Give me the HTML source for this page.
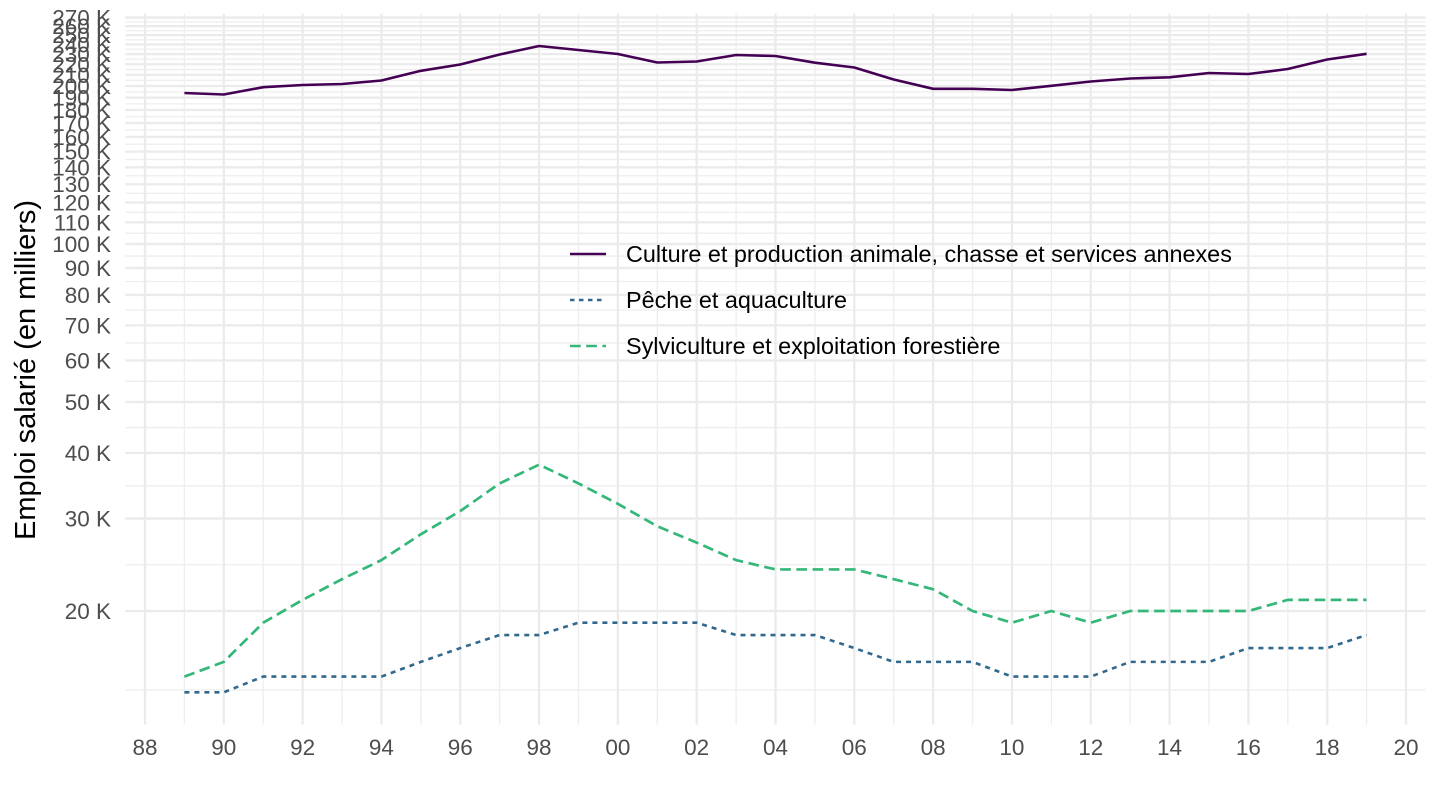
<!DOCTYPE html>
<html><head><meta charset="utf-8"><style>
html,body{margin:0;padding:0;background:#fff;}
svg{display:block;font-family:"Liberation Sans",Arial,sans-serif;}
</style></head><body>
<svg width="1440" height="810" viewBox="0 0 1440 810" xmlns="http://www.w3.org/2000/svg">
<rect width="1440" height="810" fill="#fff"/>
<g stroke="#EEEEEE" stroke-width="1.3" fill="none">
<path d="M125.3 690H1425.7M125.3 564.78H1425.7M125.3 485.79H1425.7M125.3 427.56H1425.7M125.3 381.3H1425.7M125.3 342.94H1425.7M125.3 310.14H1425.7M125.3 281.49H1425.7M125.3 256.05H1425.7M125.3 233.18H1425.7M125.3 212.39H1425.7M125.3 193.35H1425.7M125.3 175.77H1425.7M125.3 159.46H1425.7M125.3 144.24H1425.7M125.3 129.97H1425.7M125.3 116.54H1425.7M125.3 103.86H1425.7M125.3 91.85H1425.7M125.3 80.44H1425.7M125.3 69.58H1425.7M125.3 59.2H1425.7M125.3 49.28H1425.7M125.3 39.78H1425.7M125.3 30.65H1425.7M125.3 21.88H1425.7"/>
<path d="M184.41 13.7V724.6M263.22 13.7V724.6M342.03 13.7V724.6M420.84 13.7V724.6M499.66 13.7V724.6M578.47 13.7V724.6M657.28 13.7V724.6M736.09 13.7V724.6M814.91 13.7V724.6M893.72 13.7V724.6M972.53 13.7V724.6M1051.34 13.7V724.6M1130.16 13.7V724.6M1208.97 13.7V724.6M1287.78 13.7V724.6M1366.59 13.7V724.6"/>
</g>
<g stroke="#EBEBEB" stroke-width="2.3" fill="none">
<path d="M125.3 611H1425.7M125.3 518.55H1425.7M125.3 453.03H1425.7M125.3 402.08H1425.7M125.3 360.51H1425.7M125.3 325.36H1425.7M125.3 294.92H1425.7M125.3 268.06H1425.7M125.3 244.04H1425.7M125.3 222.31H1425.7M125.3 202.47H1425.7M125.3 184.22H1425.7M125.3 167.32H1425.7M125.3 151.59H1425.7M125.3 136.88H1425.7M125.3 123.05H1425.7M125.3 110.02H1425.7M125.3 97.7H1425.7M125.3 86H1425.7M125.3 74.88H1425.7M125.3 64.27H1425.7M125.3 54.13H1425.7M125.3 44.43H1425.7M125.3 35.12H1425.7M125.3 26.18H1425.7M125.3 17.58H1425.7"/>
<path d="M145 13.7V724.6M223.81 13.7V724.6M302.63 13.7V724.6M381.44 13.7V724.6M460.25 13.7V724.6M539.06 13.7V724.6M617.88 13.7V724.6M696.69 13.7V724.6M775.5 13.7V724.6M854.31 13.7V724.6M933.13 13.7V724.6M1011.94 13.7V724.6M1090.75 13.7V724.6M1169.56 13.7V724.6M1248.38 13.7V724.6M1327.19 13.7V724.6M1406 13.7V724.6"/>
</g>

<!-- series -->
<polyline fill="none" stroke="#440154" stroke-width="2.6" stroke-linejoin="round" points="184.41,93 223.81,94.5 263.22,87.2 302.63,85 342.03,84 381.44,80.5 420.84,70.8 460.25,64.5 499.66,54.5 539.06,46 578.47,50 617.88,54 657.28,62.5 696.69,61.5 736.09,55 775.5,56 814.91,62.7 854.31,67.5 893.72,79.5 933.13,88.8 972.53,88.8 1011.94,90 1051.34,85.8 1090.75,81.5 1130.16,78.5 1169.56,77.3 1208.97,73 1248.38,74 1287.78,69 1327.19,59.5 1366.59,53.8"/>
<polyline fill="none" stroke="#31688E" stroke-width="2.6" stroke-dasharray="5 5" points="184.41,692.32 223.81,692.32 263.22,676.59 302.63,676.59 342.03,676.59 381.44,676.59 420.84,661.88 460.25,648.06 499.66,635.02 539.06,635.02 578.47,622.7 617.88,622.7 657.28,622.7 696.69,622.7 736.09,635.02 775.5,635.02 814.91,635.02 854.31,648.06 893.72,661.88 933.13,661.88 972.53,661.88 1011.94,676.59 1051.34,676.59 1090.75,676.59 1130.16,661.88 1169.56,661.88 1208.97,661.88 1248.38,648.06 1287.78,648.06 1327.19,648.06 1366.59,635.02"/>
<polyline fill="none" stroke="#35B779" stroke-width="2.7" stroke-dasharray="10.7 5.5" points="184.41,676.59 223.81,661.88 263.22,622.7 302.63,599.88 342.03,579.13 381.44,560.12 420.84,534.28 460.25,511.07 499.66,483.41 539.06,464.65 578.47,483.41 617.88,503.84 657.28,526.28 696.69,542.58 736.09,560.12 775.5,569.43 814.91,569.43 854.31,569.43 893.72,579.13 933.13,589.27 972.53,611 1011.94,622.7 1051.34,611 1090.75,622.7 1130.16,611 1169.56,611 1208.97,611 1248.38,611 1287.78,599.88 1327.19,599.88 1366.59,599.88"/>

<!-- y tick labels -->
<g fill="#4D4D4D" font-size="22.5" text-anchor="end">
<text x="111" y="619">20 K</text>
<text x="111" y="526.55">30 K</text>
<text x="111" y="461.03">40 K</text>
<text x="111" y="410.08">50 K</text>
<text x="111" y="368.51">60 K</text>
<text x="111" y="333.36">70 K</text>
<text x="111" y="302.92">80 K</text>
<text x="111" y="276.06">90 K</text>
<text x="111" y="252.04">100 K</text>
<text x="111" y="230.31">110 K</text>
<text x="111" y="210.47">120 K</text>
<text x="111" y="192.22">130 K</text>
<text x="111" y="175.32">140 K</text>
<text x="111" y="159.59">150 K</text>
<text x="111" y="144.88">160 K</text>
<text x="111" y="131.05">170 K</text>
<text x="111" y="118.02">180 K</text>
<text x="111" y="105.7">190 K</text>
<text x="111" y="94">200 K</text>
<text x="111" y="82.88">210 K</text>
<text x="111" y="72.27">220 K</text>
<text x="111" y="62.13">230 K</text>
<text x="111" y="52.43">240 K</text>
<text x="111" y="43.12">250 K</text>
<text x="111" y="34.18">260 K</text>
<text x="111" y="25.58">270 K</text>
</g>

<!-- x tick labels -->
<g fill="#4D4D4D" font-size="22.5" text-anchor="middle">
<text x="145" y="755">88</text>
<text x="223.81" y="755">90</text>
<text x="302.63" y="755">92</text>
<text x="381.44" y="755">94</text>
<text x="460.25" y="755">96</text>
<text x="539.06" y="755">98</text>
<text x="617.88" y="755">00</text>
<text x="696.69" y="755">02</text>
<text x="775.5" y="755">04</text>
<text x="854.31" y="755">06</text>
<text x="933.13" y="755">08</text>
<text x="1011.94" y="755">10</text>
<text x="1090.75" y="755">12</text>
<text x="1169.56" y="755">14</text>
<text x="1248.38" y="755">16</text>
<text x="1327.19" y="755">18</text>
<text x="1406" y="755">20</text>
</g>

<!-- y axis title -->
<text x="0" y="0" transform="translate(35,370) rotate(-90)" text-anchor="middle" font-size="29" fill="#000">Emploi salarié (en milliers)</text>

<!-- legend -->
<g fill="none" stroke-width="2.6">
<line x1="570" y1="254" x2="606" y2="254" stroke="#440154"/>
<line x1="570" y1="300" x2="606" y2="300" stroke="#31688E" stroke-dasharray="4.5 4.5"/>
<line x1="570" y1="346" x2="606" y2="346" stroke="#35B779" stroke-dasharray="10.7 5.5"/>
</g>
<g fill="#000" font-size="23.4">
<text x="626" y="262">Culture et production animale, chasse et services annexes</text>
<text x="626" y="308">Pêche et aquaculture</text>
<text x="626" y="354">Sylviculture et exploitation forestière</text>
</g>
</svg>
</body></html>
